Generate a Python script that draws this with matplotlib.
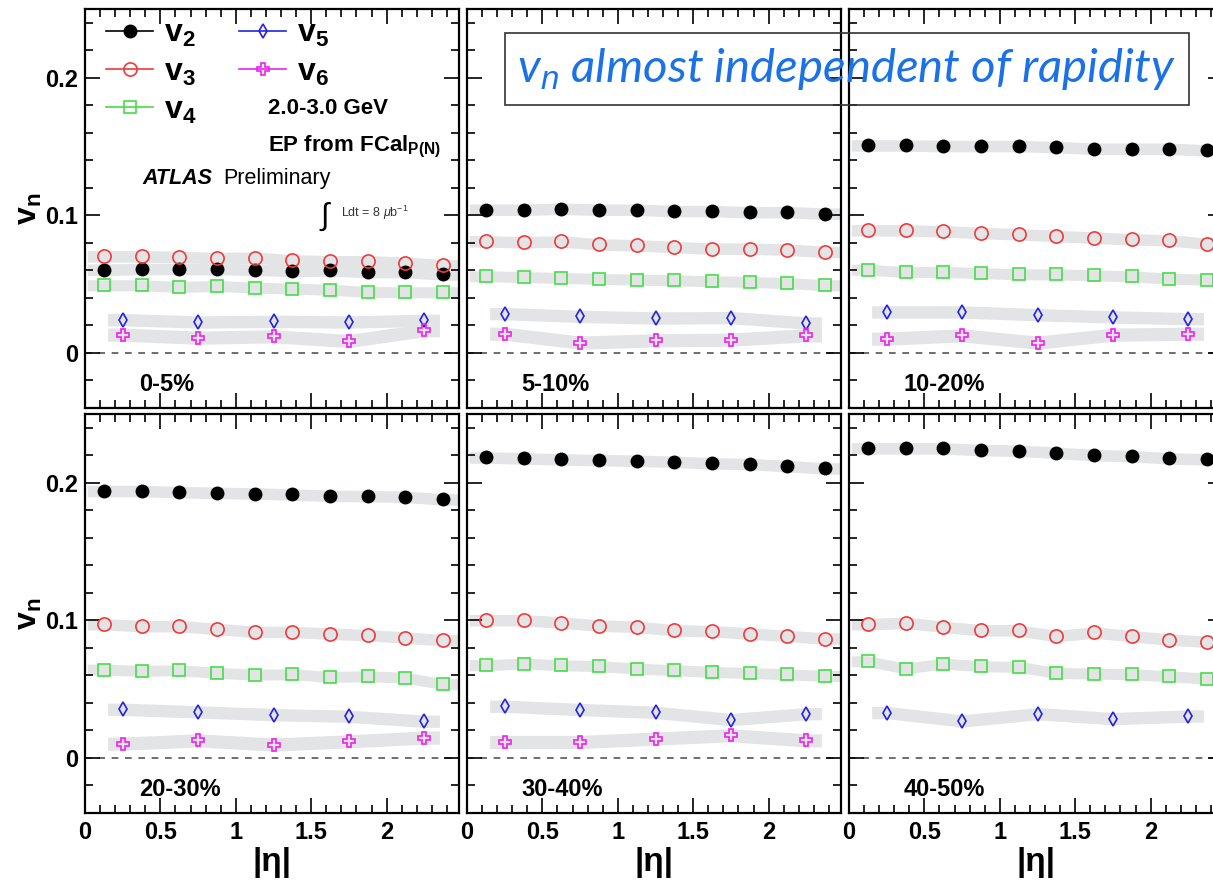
import numpy as np
import matplotlib.pyplot as plt
from matplotlib.ticker import MultipleLocator

plt.rcParams['font.family'] = ['Liberation Sans', 'DejaVu Sans']
plt.rcParams['mathtext.fontset'] = 'custom'
plt.rcParams['mathtext.rm'] = 'Liberation Sans'
plt.rcParams['mathtext.bf'] = 'Liberation Sans:bold'
plt.rcParams['mathtext.it'] = 'Liberation Sans:italic'

# |eta| bin centres
eta = [0.125, 0.375, 0.625, 0.875, 1.125, 1.375, 1.625, 1.875, 2.125, 2.375]
eta_hi = [0.25, 0.75, 1.25, 1.75, 2.25]   # coarser bins for v5, v6

centralities = ['0-5%', '5-10%', '10-20%', '20-30%', '30-40%', '40-50%']

v2 = [
    [0.0605, 0.0610, 0.0610, 0.0610, 0.0605, 0.0596, 0.0600, 0.0588, 0.0588, 0.0571],
    [0.1041, 0.1041, 0.1048, 0.1041, 0.1041, 0.1031, 0.1031, 0.1022, 0.1024, 0.1012],
    [0.1508, 0.1508, 0.1504, 0.1504, 0.1504, 0.1496, 0.1484, 0.1484, 0.1484, 0.1472],
    [0.1940, 0.1940, 0.1932, 0.1927, 0.1922, 0.1915, 0.1905, 0.1903, 0.1898, 0.1879],
    [0.2184, 0.2177, 0.2170, 0.2165, 0.2160, 0.2153, 0.2141, 0.2136, 0.2121, 0.2104],
    [0.2250, 0.2250, 0.2250, 0.2238, 0.2233, 0.2218, 0.2201, 0.2194, 0.2177, 0.2170],
]
v3 = [
    [0.0702, 0.0702, 0.0697, 0.0690, 0.0692, 0.0673, 0.0666, 0.0666, 0.0656, 0.0637],
    [0.0811, 0.0804, 0.0811, 0.0789, 0.0782, 0.0770, 0.0758, 0.0758, 0.0751, 0.0734],
    [0.0891, 0.0891, 0.0884, 0.0872, 0.0862, 0.0850, 0.0838, 0.0826, 0.0818, 0.0794],
    [0.0972, 0.0958, 0.0958, 0.0938, 0.0916, 0.0916, 0.0904, 0.0892, 0.0875, 0.0856],
    [0.1001, 0.1001, 0.0984, 0.0962, 0.0953, 0.0928, 0.0921, 0.0904, 0.0887, 0.0868],
    [0.0972, 0.0982, 0.0953, 0.0928, 0.0928, 0.0885, 0.0912, 0.0885, 0.0861, 0.0844],
]
v4 = [
    [0.0492, 0.0492, 0.0480, 0.0487, 0.0475, 0.0467, 0.0460, 0.0443, 0.0441, 0.0441],
    [0.0557, 0.0552, 0.0545, 0.0538, 0.0533, 0.0528, 0.0521, 0.0516, 0.0508, 0.0492],
    [0.0605, 0.0588, 0.0588, 0.0581, 0.0571, 0.0571, 0.0564, 0.0557, 0.0540, 0.0533],
    [0.0642, 0.0633, 0.0638, 0.0618, 0.0606, 0.0608, 0.0589, 0.0594, 0.0584, 0.0536],
    [0.0674, 0.0686, 0.0674, 0.0667, 0.0650, 0.0638, 0.0625, 0.0618, 0.0608, 0.0596],
    [0.0703, 0.0650, 0.0686, 0.0667, 0.0662, 0.0618, 0.0613, 0.0608, 0.0594, 0.0577],
]
v5 = [
    [0.0242, 0.0225, 0.0230, 0.0225, 0.0237],
    [0.0286, 0.0266, 0.0254, 0.0257, 0.0218],
    [0.0298, 0.0298, 0.0278, 0.0262, 0.0249],
    [0.0354, 0.0335, 0.0315, 0.0303, 0.0267],
    [0.0376, 0.0352, 0.0332, 0.0279, 0.0322],
    [0.0330, 0.0269, 0.0322, 0.0286, 0.0305],
]
v6 = [
    [0.0133, 0.0111, 0.0121, 0.0087, 0.0165],
    [0.0140, 0.0075, 0.0092, 0.0097, 0.0128],
    [0.0104, 0.0128, 0.0075, 0.0133, 0.0140],
    [0.0104, 0.0128, 0.0097, 0.0121, 0.0148],
    [0.0116, 0.0116, 0.0141, 0.0165, 0.0128],
    None,
]

styles = {
    'v2': dict(marker='o', color='black', mfc='black', ms=9),
    'v3': dict(marker='o', color='#ee3a3a', mfc='none', ms=9.5, mew=1.2),
    'v4': dict(marker='s', color='#44dd44', mfc='none', ms=8, mew=1.2),
    'v5': dict(marker='d', color='#2424dd', mfc='none', ms=7.5, mew=1.2),
    'v6': dict(marker='P', color='#ee22ee', mfc='none', ms=8.5, mew=1.2),
}
band_color = '#e3e4e6'

fig = plt.figure(figsize=(12.13, 8.8), dpi=100)

col_left = [85 / 1213, 467 / 1213, 849 / 1213]
col_w = 374 / 1213
row_bottom = [1 - 408 / 880, 1 - 813 / 880]
row_h = 399 / 880


def draw_series(ax, x, y, key, half, ext):
    x = np.asarray(x)
    y = np.asarray(y)
    xb = np.concatenate([[x[0] - ext], x, [x[-1] + ext]])
    yb = np.concatenate([[y[0]], y, [y[-1]]])
    ax.fill_between(xb, yb - half, yb + half, color=band_color, lw=0, zorder=1)
    st = styles[key]
    ax.plot(x, y, ls='none', marker=st['marker'], mec=st['color'],
            mfc=st['mfc'], ms=st['ms'], mew=st.get('mew', 1), zorder=3)


axes = []
for i in range(6):
    r, c = divmod(i, 3)
    ax = fig.add_axes([col_left[c], row_bottom[r], col_w, row_h])
    axes.append(ax)
    ax.set_xlim(0, 2.48)
    ax.set_ylim(-0.04, 0.25)
    ax.axhline(0, color='#555555', ls=(0, (4, 4)), lw=1.2, zorder=0)

    draw_series(ax, eta, v2[i], 'v2', 0.0042, 0.11)
    draw_series(ax, eta, v3[i], 'v3', 0.0042, 0.11)
    draw_series(ax, eta, v4[i], 'v4', 0.0040, 0.11)
    draw_series(ax, eta_hi, v5[i], 'v5', 0.0045, 0.1)
    if v6[i] is not None:
        draw_series(ax, eta_hi, v6[i], 'v6', 0.0048, 0.1)

    ax.xaxis.set_major_locator(MultipleLocator(0.5))
    ax.xaxis.set_minor_locator(MultipleLocator(0.1))
    ax.yaxis.set_major_locator(MultipleLocator(0.1))
    ax.yaxis.set_minor_locator(MultipleLocator(0.02))
    ax.tick_params(which='both', direction='in', top=True, right=True, width=1.2)
    ax.tick_params(which='major', length=11)
    ax.tick_params(which='minor', length=6)
    for sp in ax.spines.values():
        sp.set_linewidth(1.6)

    ax.set_xticklabels([])
    ax.set_yticklabels([])
    if r == 1:
        ax.set_xticks([0, 0.5, 1, 1.5, 2])
        ax.set_xticklabels(['0', '0.5', '1', '1.5', '2'], fontsize=17, fontweight='bold')
        ax.tick_params(axis='x', pad=6)
        ax.set_xlabel('|η|', fontsize=24, fontweight='bold', labelpad=2)
    if c == 0:
        ax.set_yticks([0, 0.1, 0.2])
        ax.set_yticklabels(['0', '0.1', '0.2'], fontsize=17, fontweight='bold')
        ax.tick_params(axis='y', pad=5)
        ax.set_ylabel(r'$\mathbf{v_n}$', fontsize=23, labelpad=1)

    ax.text(0.145, 0.06, centralities[i], transform=ax.transAxes,
            fontsize=17, fontweight='bold', va='center', ha='left')

# legend and labels in the first panel
ax0 = axes[0]
handles = []
for key in ['v2', 'v3', 'v4', 'v5', 'v6']:
    st = styles[key]
    h, = ax0.plot([], [], color=st['color'], lw=1.2, marker=st['marker'],
                  mec=st['color'], mfc=st['mfc'], ms=st['ms'], mew=st.get('mew', 1))
    handles.append(h)
labels = [r'$\mathbf{v_2}$', r'$\mathbf{v_3}$', r'$\mathbf{v_4}$',
          r'$\mathbf{v_5}$', r'$\mathbf{v_6}$']
ax0.legend(handles, labels, loc='upper left', bbox_to_anchor=(0.04, 0.99), ncol=2,
           frameon=False, fontsize=23, handlelength=1.45, columnspacing=1.35,
           labelspacing=0.25, handletextpad=0.35, borderaxespad=0, borderpad=0.2)

ax0.text(0.49, 0.75, '2.0-3.0 GeV', transform=ax0.transAxes, fontsize=16,
         fontweight='bold', va='center')
ax0.text(0.49, 0.655, r'EP from FCal$_{\mathbf{P(N)}}$', transform=ax0.transAxes,
         fontsize=16, fontweight='bold', va='center')
ax0.text(0.153, 0.575, 'ATLAS', transform=ax0.transAxes, fontsize=15.5,
         fontweight='bold', style='italic', va='center')
ax0.text(0.37, 0.575, 'Preliminary', transform=ax0.transAxes, fontsize=15.5,
         va='center')
ax0.text(0.625, 0.48, r'$\int$', transform=ax0.transAxes, fontsize=22, va='center')
ax0.text(0.685, 0.49, r'Ldt = 8 $\mu$b$^{-1}$', transform=ax0.transAxes,
         fontsize=9, va='center', color='#333333')

# highlighted message
fig.text(0.4265, 1 - 69 / 880, r'v$_n$ almost independent of rapidity',
         fontsize=34, color='#1a72e6', family=['Lato', 'DejaVu Sans'], style='italic',
         ha='left', va='center',
         bbox=dict(boxstyle='square,pad=0.27', fc='none', ec='#333333', lw=1.2))

fig.savefig('out.png', dpi=100)
